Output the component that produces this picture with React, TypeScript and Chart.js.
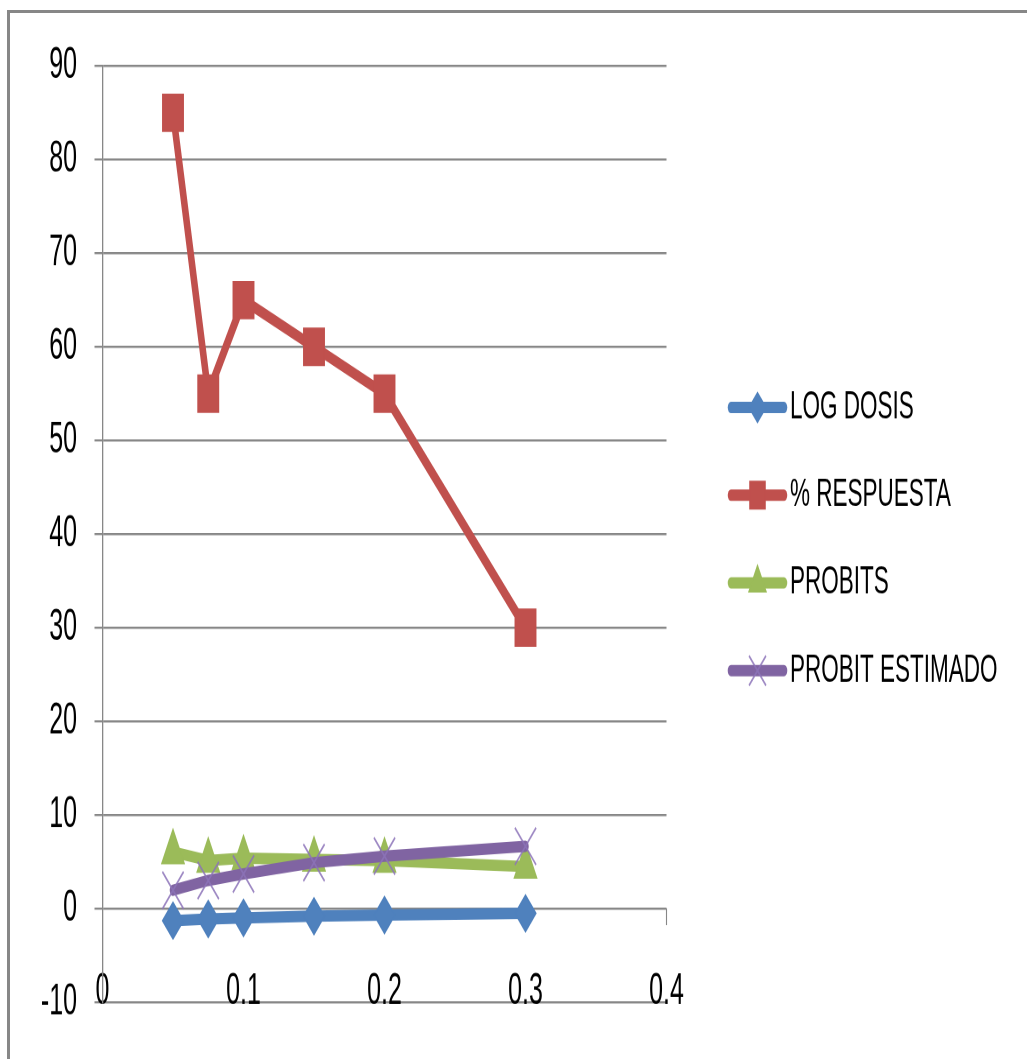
import React, { useEffect, useRef } from 'react';
import { Chart, registerables } from 'chart.js';
import { drawPoint } from 'chart.js/helpers';

Chart.register(...registerables);

// Dose levels (x) and the four series plotted against them
const doses = [0.05, 0.075, 0.1, 0.15, 0.2, 0.3];
const logDosis = [-1.3, -1.12, -1.0, -0.82, -0.7, -0.52];
const respuesta = [85, 55, 65, 60, 55, 30];
const probits = [6.04, 5.13, 5.39, 5.25, 5.13, 4.48];
const probitEstimado = [1.95, 3.0, 3.7, 4.9, 5.6, 6.65];

const seriesNames = ['LOG DOSIS', '% RESPUESTA', 'PROBITS', 'PROBIT ESTIMADO'];
const seriesColors = ['#4F81BD', '#C0504D', '#9BBB59', '#8064A2'];

// Axis ranges / tick steps
const xRange = [0, 0.4];
const xStep = 0.1;
const xTickValues = [0.1, 0.2, 0.3, 0.4];
const yRange = [-10, 90];
const yStep = 10;

// Drawing surface: rendered compact and stretched vertically
const CANVAS_W = 1027;
const CANVAS_H = 605;
const STRETCH = 1059 / CANVAS_H;
const PLOT_LEFT = 102.5;
const PLOT_RIGHT = 666.5;
const PLOT_TOP = 66 / STRETCH;
const PLOT_BOTTOM = 1003.5 / STRETCH;

const FONT_FAMILY = '"Liberation Sans", Arial, sans-serif';
const GRID = '#878787';

const LEGEND_Y0 = 232.8;
const LEGEND_STEP = 50.1;
const legendRadius = [8.5, 11, 10, 12];

const toPoints = (ys: number[]) => doses.map((x, i) => ({ x, y: ys[i] }));

// Small downward tick marks under the zero line
const zeroTicksPlugin = {
  id: 'zeroTicks',
  beforeDatasetsDraw(chart: any) {
    const { ctx, scales } = chart;
    const y0 = scales.y.getPixelForValue(0);
    ctx.save();
    ctx.strokeStyle = GRID;
    ctx.lineWidth = 1.1;
    xTickValues.forEach((v) => {
      const px = scales.x.getPixelForValue(v);
      ctx.beginPath();
      ctx.moveTo(px, y0);
      ctx.lineTo(px, y0 + 9.5);
      ctx.stroke();
    });
    ctx.restore();
  },
};

// Legend on the right: line sample + marker + label
const sideLegendPlugin = {
  id: 'sideLegend',
  afterDraw(chart: any) {
    const { ctx } = chart;
    ctx.save();
    chart.data.datasets.forEach((ds: any, i: number) => {
      const y = LEGEND_Y0 + i * LEGEND_STEP;
      ctx.strokeStyle = ds.borderColor;
      ctx.lineWidth = ds.borderWidth;
      ctx.lineCap = 'round';
      ctx.beginPath();
      ctx.moveTo(731, y);
      ctx.lineTo(784, y);
      ctx.stroke();

      ctx.fillStyle = ds.pointBackgroundColor;
      ctx.strokeStyle = ds.pointBorderColor;
      ctx.lineWidth = ds.pointBorderWidth;
      ctx.lineCap = 'butt';
      drawPoint(
        ctx,
        { pointStyle: ds.pointStyle, radius: legendRadius[i], borderWidth: ds.pointBorderWidth, rotation: 0 },
        757.5,
        y
      );

      ctx.fillStyle = '#000';
      ctx.font = `22.5px ${FONT_FAMILY}`;
      ctx.textAlign = 'left';
      ctx.textBaseline = 'middle';
      ctx.fillText(ds.label, 790, y);
    });
    ctx.restore();
  },
};

export default function App() {
  const canvasRef = useRef<HTMLCanvasElement>(null);

  useEffect(() => {
    if (!canvasRef.current) return;
    const lineBase = {
      borderWidth: 6.5,
      borderJoinStyle: 'round',
      borderCapStyle: 'round',
      tension: 0,
      fill: false,
    };
    const chart = new Chart(canvasRef.current, {
      type: 'line',
      data: {
        datasets: [
          {
            ...lineBase,
            label: seriesNames[0],
            data: toPoints(logDosis),
            borderColor: seriesColors[0],
            pointStyle: 'rectRot',
            pointRadius: 10.5,
            pointBackgroundColor: seriesColors[0],
            pointBorderColor: seriesColors[0],
            pointBorderWidth: 1,
            order: 3,
          },
          {
            ...lineBase,
            label: seriesNames[1],
            data: toPoints(respuesta),
            borderColor: seriesColors[1],
            pointStyle: 'rect',
            pointRadius: 14.8,
            pointBackgroundColor: seriesColors[1],
            pointBorderColor: seriesColors[1],
            pointBorderWidth: 1,
            order: 2,
          },
          {
            ...lineBase,
            label: seriesNames[2],
            data: toPoints(probits),
            borderColor: seriesColors[2],
            pointStyle: 'triangle',
            pointRadius: 13,
            pointBackgroundColor: seriesColors[2],
            pointBorderColor: seriesColors[2],
            pointBorderWidth: 1,
            order: 1,
          },
          {
            ...lineBase,
            label: seriesNames[3],
            data: toPoints(probitEstimado),
            borderColor: seriesColors[3],
            pointStyle: 'crossRot',
            pointRadius: 15,
            pointBackgroundColor: 'rgba(0,0,0,0)',
            pointBorderColor: 'rgba(140,115,185,0.85)',
            pointBorderWidth: 1.4,
            order: 0,
          },
        ],
      } as any,
      options: {
        responsive: false,
        animation: false,
        devicePixelRatio: 2,
        events: [],
        layout: {
          padding: {
            left: 0,
            top: PLOT_TOP,
            right: CANVAS_W - PLOT_RIGHT,
            bottom: CANVAS_H - PLOT_BOTTOM,
          },
        },
        plugins: {
          legend: { display: false },
          tooltip: { enabled: false },
        },
        scales: {
          x: {
            type: 'linear',
            position: 'bottom',
            min: xRange[0],
            max: xRange[1],
            grid: { display: false, drawTicks: false },
            border: { display: false },
            ticks: {
              stepSize: xStep,
              padding: -9,
              mirror: true,
              color: '#000',
              font: { family: FONT_FAMILY, size: 25 },
              maxRotation: 0,
            },
            afterFit(scale: any) {
              scale.height = 0;
            },
          },
          y: {
            min: yRange[0],
            max: yRange[1],
            grid: { color: GRID, lineWidth: 1.2, drawTicks: true, tickLength: 8, tickColor: GRID },
            border: { display: true, color: GRID, width: 1.3 },
            ticks: {
              stepSize: yStep,
              padding: 17.5,
              color: '#000',
              font: { family: FONT_FAMILY, size: 25 },
            },
            afterFit(scale: any) {
              scale.width = PLOT_LEFT;
            },
          },
        },
      } as any,
      plugins: [zeroTicksPlugin, sideLegendPlugin],
    });
    return () => chart.destroy();
  }, []);

  return (
    <div
      style={{
        position: 'absolute',
        left: 0,
        top: 0,
        width: 1027,
        height: 1059,
        overflow: 'hidden',
        background: '#fff',
      }}
    >
      <div
        style={{
          position: 'absolute',
          left: 7,
          top: 10,
          width: 1100,
          height: 1100,
          borderLeft: `3px solid ${GRID}`,
          borderTop: `3px solid ${GRID}`,
        }}
      />
      <div
        style={{
          position: 'absolute',
          left: 0,
          top: 0,
          width: CANVAS_W,
          height: CANVAS_H,
          transform: `scaleY(${STRETCH})`,
          transformOrigin: '0 0',
        }}
      >
        <canvas
          ref={canvasRef}
          width={CANVAS_W}
          height={CANVAS_H}
          style={{ display: 'block', width: `${CANVAS_W}px`, height: `${CANVAS_H}px` }}
        />
      </div>
    </div>
  );
}
